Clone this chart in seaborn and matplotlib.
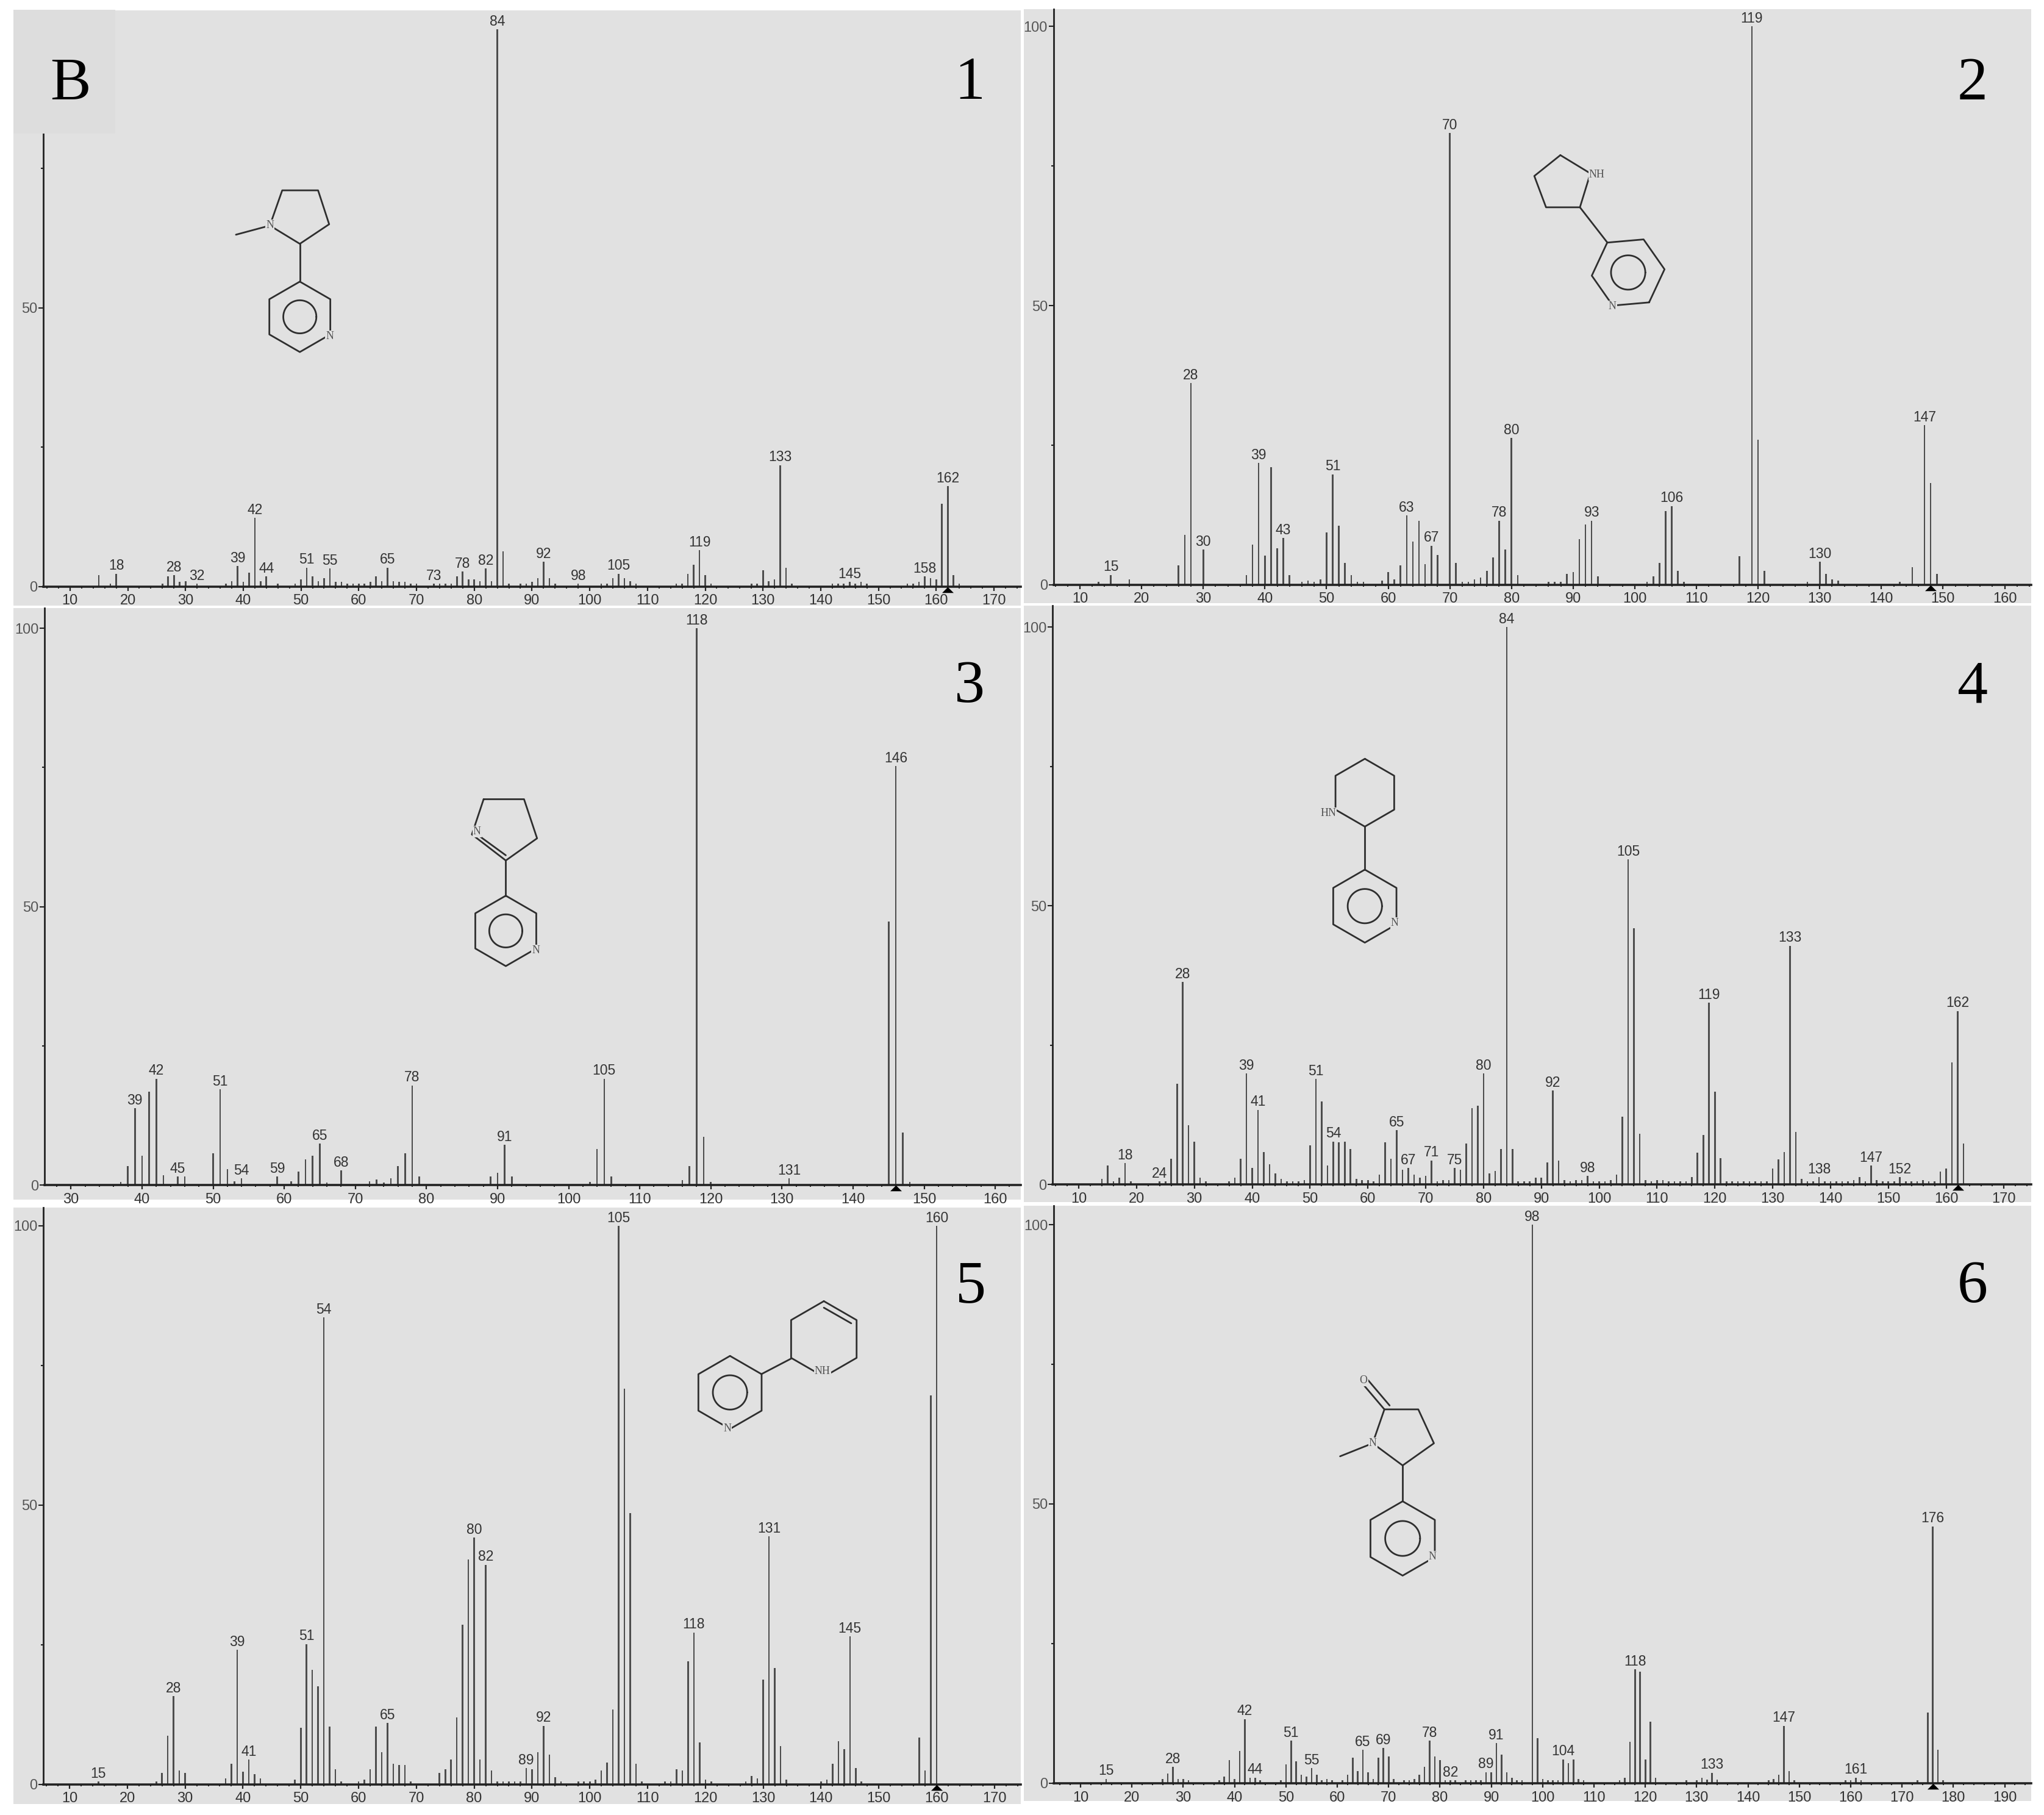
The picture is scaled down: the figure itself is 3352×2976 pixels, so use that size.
import numpy as np
import pandas as pd
import seaborn as sns
import matplotlib

matplotlib.use("Agg")
import matplotlib.pyplot as plt
from matplotlib.patches import Rectangle
from matplotlib.path import Path
from matplotlib.ticker import FixedLocator

# spectrum 1
mz_1 = [15, 17, 18, 26, 27, 28, 29, 30, 32, 37, 38, 39, 40, 41, 42, 43, 44, 46, 49, 50,
        51, 52, 53, 54, 55, 56, 57, 58, 59, 60, 61, 62, 63, 64, 65, 66, 67, 68, 69, 70,
        73, 74, 75, 76, 77, 78, 79, 80, 81, 82, 83, 84, 85, 86, 88, 89, 90, 91, 92, 93,
        94, 98, 102, 103, 104, 105, 106, 107, 108, 115, 116, 117, 118, 119, 120, 121,
        128, 129, 130, 131, 132, 133, 134, 135, 142, 143, 144, 145, 146, 147, 148,
        155, 156, 157, 158, 159, 160, 161, 162, 163, 164]
int_1 = [2.0, .5, 2.3, .5, 1.8, 2.0, .8, 1.0, .5, .5, 1.0, 3.7, .8, 2.5, 12.3, 1.0, 1.8, .5, .5, 1.3,
         3.4, 1.8, 1.0, 1.5, 3.2, .8, .8, .5, .5, .5, .5, .8, 1.8, 1.0, 3.4, 1.0, .8, .8, .5, .5,
         .5, .5, .5, .5, 1.8, 2.7, 1.3, 1.3, 1.0, 3.2, 1.0, 100, 6.3, .5, .5, .5, .8, 1.5, 4.4, 1.5,
         .5, .5, .5, .5, 1.5, 2.3, 1.5, 1.0, .5, .5, .5, 2.3, 3.9, 6.5, 2.0, .5,
         .5, .5, 2.9, 1.0, 1.3, 21.8, 3.4, .5, .5, .5, .5, .8, .5, .8, .5,
         .5, .5, .8, 1.8, 1.5, 1.3, 14.9, 18.0, 2.0, .5]
labels_1 = [18, 28, 32, 39, 42, 44, 51, 55, 65, 73, 78, 82, 84, 92, 98, 105, 119, 133, 145, 158, 162]

# spectrum 2
mz_2 = [13, 15, 18, 26, 27, 28, 30, 37, 38, 39, 40, 41, 42, 43, 44, 46, 47, 48, 49, 50,
        51, 52, 53, 54, 55, 56, 59, 60, 61, 62, 63, 64, 65, 66, 67, 68, 70, 71, 72, 73,
        74, 75, 76, 77, 78, 79, 80, 81, 86, 87, 88, 89, 90, 91, 92, 93, 94,
        102, 103, 104, 105, 106, 107, 108, 117, 119, 120, 121, 128, 130, 131, 132, 133,
        143, 145, 147, 148, 149]
int_2 = [.6, 1.8, 1.0, 3.5, 8.9, 36.1, 6.3, 1.8, 7.2, 21.8, 5.2, 21.1, 6.5, 8.4, 1.8, .6, .8, .6, 1.0, 9.4,
         19.8, 10.6, 3.9, 1.8, .6, .6, .8, 2.3, 1.0, 3.5, 12.4, 7.7, 11.5, 3.7, 7.0, 5.4, 80.9, 3.9, .6, .6,
         1.0, 1.3, 2.5, 4.9, 11.5, 6.3, 26.3, 1.8, .6, .6, .6, 2.0, 2.3, 8.2, 10.8, 11.5, 1.5,
         .6, 1.5, 3.9, 13.2, 14.1, 2.5, .6, 5.1, 100, 26.0, 2.5, .6, 4.1, 2.0, 1.0, .8,
         .6, 3.2, 28.6, 18.2, 2.0]
labels_2 = [15, 28, 30, 39, 43, 51, 63, 67, 70, 78, 80, 93, 106, 119, 130, 147]

# spectrum 3
mz_3 = [37, 38, 39, 40, 41, 42, 43, 45, 46, 50, 51, 52, 53, 54, 59, 61, 62, 63, 64, 65,
        66, 68, 72, 73, 74, 75, 76, 77, 78, 79, 89, 90, 91, 92, 103, 104, 105, 106,
        116, 117, 118, 119, 120, 131, 145, 146, 147, 148]
int_3 = [.5, 3.4, 13.8, 5.3, 16.8, 19.1, 1.7, 1.5, 1.5, 5.7, 17.2, 2.9, .7, 1.2, 1.5, .7, 2.4, 4.6, 5.3, 7.4,
         .4, 2.6, .7, 1.0, .4, 1.2, 3.4, 5.7, 17.9, 1.5, 1.5, 2.2, 7.2, 1.5, .5, 6.5, 19.1, 1.5,
         .9, 3.4, 100, 8.7, .5, 1.2, 47.3, 75.2, 9.4, .5]
labels_3 = [39, 42, 45, 51, 54, 59, 65, 68, 78, 91, 105, 118, 131, 146]

# spectrum 4
mz_4 = [14, 15, 16, 17, 18, 19, 24, 25, 26, 27, 28, 29, 30, 31, 32, 36, 37, 38, 39, 40,
        41, 42, 43, 44, 45, 46, 47, 48, 49, 50, 51, 52, 53, 54, 55, 56, 57, 58, 59, 60,
        61, 62, 63, 64, 65, 66, 67, 68, 69, 70, 71, 72, 73, 74, 75, 76, 77, 78, 79, 80,
        81, 82, 83, 84, 85, 86, 87, 88, 89, 90, 91, 92, 93, 94, 95, 96, 97, 98, 99, 100,
        101, 102, 103, 104, 105, 106, 107, 108, 109, 110, 111, 112, 113, 114, 115, 116,
        117, 118, 119, 120, 121, 122, 123, 124, 125, 126, 127, 128, 129, 130, 131, 132,
        133, 134, 135, 136, 137, 138, 139, 140, 141, 142, 143, 144, 145, 146, 147, 148,
        149, 150, 151, 152, 153, 154, 155, 156, 157, 158, 159, 160, 161, 162, 163]
int_4 = [1.0, 3.4, .5, 1.2, 3.8, .5, .5, .5, 4.6, 18.0, 36.3, 10.6, 7.7, 1.2, .5, .5, 1.2, 4.6, 19.9, 2.9,
         13.4, 5.8, 3.6, 2.0, 1.0, .5, .5, .5, .8, 7.0, 18.9, 14.9, 3.4, 7.7, 7.5, 7.7, 6.3, 1.0, .8, .8,
         .5, 1.7, 7.5, 4.6, 9.7, 2.6, 2.9, 1.7, 1.2, 1.5, 4.3, .5, .8, .8, 2.9, 2.6, 7.3, 13.7, 14.1, 19.9,
         2.0, 2.4, 6.3, 100, 6.3, .5, .5, .5, 1.2, 1.2, 3.9, 16.8, 4.3, .8, .5, .8, .8, 1.5, .5, .5,
         .5, .8, 1.8, 12.1, 58.3, 46.0, 9.1, .8, .5, .8, .8, .5, .5, .5, .5, 1.3,
         5.7, 8.9, 32.6, 16.6, 4.7, .5, .5, .5, .5, .5, .5, .5, .5, 2.8, 4.5, 5.8,
         42.8, 9.4, 1.0, .5, .5, 1.3, .5, .5, .5, .5, .5, .8, 1.3, .5, 3.4, .8,
         .5, .5, .5, 1.3, .5, .5, .5, .8, .5, .5, 2.3, 2.8, 21.9, 31.1, 7.3]
labels_4 = [18, 24, 28, 39, 41, 51, 54, 65, 67, 71, 75, 80, 84, 92, 98, 105, 119, 133, 138, 147, 152, 162]

# spectrum 5
mz_5 = [15, 25, 26, 27, 28, 29, 30, 37, 38, 39, 40, 41, 42, 43, 49, 50, 51, 52, 53, 54,
        55, 56, 57, 60, 61, 62, 63, 64, 65, 66, 67, 68, 69, 74, 75, 76, 77, 78, 79, 80,
        81, 82, 83, 84, 85, 86, 87, 88, 89, 90, 91, 92, 93, 94, 95, 98, 99, 100, 101, 102,
        103, 104, 105, 106, 107, 108, 109, 113, 114, 115, 116, 117, 118, 119, 120, 121,
        127, 128, 129, 130, 131, 132, 133, 134, 140, 141, 142, 143, 144, 145, 146, 147,
        157, 158, 159, 160]
int_5 = [.5, .5, 2.0, 8.7, 15.8, 2.5, 2.0, 1.1, 3.7, 24.1, 2.3, 4.4, 1.8, 1.1, .8, 10.1, 25.1, 20.5, 17.5, 83.6,
         10.3, 2.7, .5, .5, .8, 2.7, 10.3, 5.8, 11.0, 3.7, 3.5, 3.5, .5, 2.0, 2.7, 4.4, 12.0, 28.6, 40.3, 44.2,
         4.4, 39.3, 2.5, .5, .5, .5, .5, .5, 2.9, 2.7, 5.8, 10.5, 5.3, 1.3, .5, .5, .5, .5, .8, 2.5,
         3.9, 13.4, 100, 70.8, 48.6, 3.7, .5, .5, .5, 2.7, 2.5, 22.0, 27.2, 7.5, .8, .5,
         .5, 1.5, 1.1, 18.7, 44.4, 20.8, 6.8, .8, .5, .8, 3.7, 7.7, 6.3, 26.5, 2.9, .5,
         8.4, 2.5, 69.6, 100]
labels_5 = [15, 28, 39, 41, 51, 54, 65, 80, 82, 89, 92, 105, 118, 131, 145, 160]

# spectrum 6
mz_6 = [15, 26, 27, 28, 29, 30, 31, 37, 38, 39, 40, 41, 42, 43, 44, 45, 49, 50, 51, 52,
        53, 54, 55, 56, 57, 58, 59, 61, 62, 63, 64, 65, 66, 67, 68, 69, 70, 71, 73, 74,
        75, 76, 77, 78, 79, 80, 81, 82, 83, 85, 86, 87, 88, 89, 90, 91, 92, 93, 94, 95,
        96, 98, 99, 100, 101, 102, 103, 104, 105, 106, 107, 108, 115, 116, 117, 118, 119,
        120, 121, 122, 128, 130, 131, 132, 133, 134, 144, 145, 146, 147, 148, 149,
        159, 160, 161, 162, 173, 175, 176, 177, 178]
int_6 = [.8, .8, 1.7, 2.9, .8, .8, .5, .5, 1.2, 4.1, .8, 5.8, 11.5, 1.0, 1.0, .5, .5, 3.4, 7.6, 3.9,
         1.5, 1.2, 2.7, 1.5, .5, .8, .5, .5, 1.5, 4.6, 2.2, 6.0, 2.0, .8, 4.6, 6.3, 4.8, .8, .5, .5,
         .8, 1.5, 2.9, 7.6, 4.8, 4.1, .5, .5, .5, .5, .5, .5, .5, 2.0, 2.0, 7.2, 5.1, 2.0, 1.0, .5,
         .5, 100, 8.1, .8, .5, .5, .5, 4.3, 3.6, 4.3, .8, .5, .5, 1.0, 7.4, 20.4, 20.0,
         4.3, 11.0, 1.0, .5, .5, 1.0, .7, 1.9, .7, .5, .8, 1.5, 10.3, 2.2, .5,
         .5, .5, 1.0, .5, .5, 12.7, 46.0, 6.0, .5]
labels_6 = [15, 28, 42, 44, 51, 55, 65, 69, 78, 82, 89, 91, 98, 104, 118, 133, 147, 161, 176]

spectra = [(mz_1, int_1, labels_1), (mz_2, int_2, labels_2), (mz_3, int_3, labels_3),
           (mz_4, int_4, labels_4), (mz_5, int_5, labels_5), (mz_6, int_6, labels_6)]
parent_ions = [162, 148, 146, 162, 160, 176]
panel_names = ["1", "2", "3", "4", "5", "6"]

# layout, in pixels of the 3352x2976 figure
W, H = 3352, 2976
panel_rects = [(22, 17, 1674, 993), (1679, 15, 3331, 989), (22, 997, 1674, 1967),
               (1679, 993, 3331, 1971), (22, 1980, 1674, 2958), (1679, 1977, 3331, 2953)]
# anchor tick, its pixel, pixels per m/z, y axis pixel, baseline pixel, pixel of 100
scales = [(10, 114.8, 9.47, 71.4, 961.7, 48), (10, 1771, 10.11, 1727.7, 959, 43),
          (30, 116.3, 11.66, 73, 1943, 1030), (10, 1769, 9.484, 1726, 1942, 1028),
          (10, 114, 9.48, 71, 2925.7, 2010), (10, 1772, 8.42, 1728, 2924, 2008)]
name_pos = [(1590, 138), (3235, 138), (1590, 1127), (3235, 1127), (1592, 2111), (3235, 2111)]

GREY = "#e1e1e1"
STEM = "#4d4d4d"
INK = "#333333"
S = 3352 / 1568  # structures
PARENT_MARK = Path([(-1, -0.5), (1, -0.5), (0, 0.5), (-1, -0.5)], closed=True)

sns.set_theme(style="white")
plt.rcParams["font.family"] = ["Liberation Sans", "DejaVu Sans"]

fig = plt.figure(figsize=(W / 100, H / 100), dpi=100, facecolor="white")


def draw_spectrum(i):
    mz, intensity, labels = spectra[i]
    left, top, right, bottom = panel_rects[i]
    tick0, tick_px, ppu, axis_px, base, y100 = scales[i]
    ppc = (base - y100) / 100

    ax = fig.add_axes([left / W, 1 - bottom / H, (right - left) / W, (bottom - top) / H])
    ax.set_facecolor(GREY)
    df = pd.DataFrame({"mz": mz, "rel": intensity})
    sns.barplot(data=df, x="mz", y="rel", native_scale=True, width=2.6 / ppu, errorbar=None,
                color=STEM, saturation=1, linewidth=0, ax=ax)
    ax.set_xlim(tick0 + (left - tick_px) / ppu, tick0 + (right - tick_px) / ppu)
    ax.set_ylim((base - bottom) / ppc, (base - top) / ppc)
    ax.set_xlabel("")
    ax.set_ylabel("")

    axis_x = tick0 + (axis_px - tick_px) / ppu
    x_end = ax.get_xlim()[1]
    sns.despine(ax=ax, top=True, right=True)
    ax.spines["left"].set_position(("data", axis_x))
    ax.spines["bottom"].set_position(("data", 0))
    ax.spines["left"].set_bounds(0, ax.get_ylim()[1])
    ax.spines["bottom"].set_bounds(axis_x, x_end)
    ax.spines["left"].set_linewidth(2.0)
    ax.spines["left"].set_color("#222222")
    ax.spines["bottom"].set_linewidth(2.6)
    ax.spines["bottom"].set_color("#222222")

    # no ticks left of the y axis
    ax.xaxis.set_major_locator(FixedLocator([t for t in range(0, 200, 10) if axis_x < t < x_end]))
    ax.xaxis.set_minor_locator(FixedLocator([t for t in range(0, 200, 2) if axis_x < t < x_end]))
    ax.yaxis.set_major_locator(FixedLocator([0, 50, 100]))
    ax.yaxis.set_minor_locator(FixedLocator([25, 75]))
    ax.tick_params(axis="x", which="major", bottom=True, length=5, width=1.6, color="#222222",
                   labelsize=17, labelcolor=INK, pad=4)
    ax.tick_params(axis="x", which="minor", bottom=True, length=2.5, width=1.4, color="#222222")
    ax.tick_params(axis="y", which="major", left=True, length=6, width=1.5, color="#222222",
                   labelsize=17, labelcolor="#555555", pad=1)
    ax.tick_params(axis="y", which="minor", left=True, length=3, width=1.5, color="#222222")

    lookup = dict(zip(mz, intensity))
    for m in labels:
        ax.annotate(str(m), (m, lookup[m]), xytext=(0, 1), textcoords="offset points",
                    ha="center", va="bottom", fontsize=16.5, color=INK, annotation_clip=False)

    # parent ion marker under the baseline
    ax.plot([parent_ions[i]], [-5 / ppc], marker=PARENT_MARK, ms=13.7, color="black", mew=0,
            clip_on=False, zorder=5)


for i in range(6):
    draw_spectrum(i)

over = fig.add_axes([0, 0, 1, 1], zorder=10)
over.set_xlim(0, W)
over.set_ylim(H, 0)
over.set_axis_off()
over.patch.set_alpha(0)


def bonds(points, closed=False):
    pts = list(points) + ([points[0]] if closed else [])
    over.plot([p[0] * S for p in pts], [p[1] * S for p in pts], color="#2e2e2e", lw=2.0,
              solid_joinstyle="round", solid_capstyle="round")


def ring(cx, cy, r, start=-90):
    ang = np.deg2rad(start + 60 * np.arange(6))
    return [(cx + r * np.cos(a), cy + r * np.sin(a)) for a in ang]


def aromatic(cx, cy, r, start=-90):
    bonds(ring(cx, cy, r, start), closed=True)
    theta = np.linspace(0, 2 * np.pi, 60)
    bonds(list(zip(cx + r * 0.47 * np.cos(theta), cy + r * 0.47 * np.sin(theta))))


def atom(x, y, text):
    over.text(x * S, y * S, text, ha="center", va="center", fontsize=13, color="#555555",
              family="Liberation Serif", bbox=dict(fc=GREY, ec="none", pad=0.8))


# 1
bonds([(207, 173), (216.5, 146), (244, 146), (252.5, 172), (230, 187)], closed=True)
bonds([(181, 180), (207, 173)])
bonds([(230, 187), (230, 215)])
aromatic(230, 243, 27)
atom(207, 173, "N")
atom(253, 258, "N")
# 2
bonds([(1197, 119), (1220, 133), (1212, 159), (1186, 159), (1177, 135)], closed=True)
bonds([(1212, 159), (1233, 186)])
aromatic(1249, 209, 28, start=55)
atom(1225, 134, "NH")
atom(1237, 235, "N")
# 3
bonds([(371, 613), (402, 613), (412, 643), (388, 660), (362, 640)], closed=True)
bonds([(388, 656), (366, 640)])
bonds([(388, 660), (388, 687)])
aromatic(388, 714, 27)
atom(366, 638, "N")
atom(411, 729, "N")
# 4
bonds(ring(1047, 608, 26), closed=True)
bonds([(1047, 634), (1047, 667)])
aromatic(1047, 695, 28)
atom(1019, 624, "HN")
atom(1070, 708, "N")
# 5
aromatic(560, 1068, 28)
bonds([(584, 1054), (607, 1042)])
bonds(ring(632, 1027, 29), closed=True)
bonds([(632, 1003), (653, 1015)])
atom(631, 1052, "NH")
atom(558, 1096, "N")
# 6
bonds([(1062, 1081), (1088, 1081), (1100, 1107), (1076, 1124), (1053, 1107)], closed=True)
bonds([(1028, 1117), (1053, 1107)])
bonds([(1062, 1081), (1045, 1061)])
bonds([(1066, 1078), (1049, 1058)])
bonds([(1076, 1124), (1076, 1151)])
aromatic(1076, 1180, 28.5)
atom(1053, 1107, "N")
atom(1046, 1059, "O")
atom(1099, 1194, "N")

# panel numbers and the B box
for name, (x, y) in zip(panel_names, name_pos):
    over.text(x, y, name, ha="center", va="center", fontsize=72, color="black",
              family="Liberation Serif")
over.add_patch(Rectangle((22, 16), 167, 203, fc="#dddddd", ec="none", zorder=6))
over.text(115, 138, "B", ha="center", va="center", fontsize=72, color="black",
          family="Liberation Serif", zorder=7)

fig.savefig("out.png", dpi=100, facecolor="white")
